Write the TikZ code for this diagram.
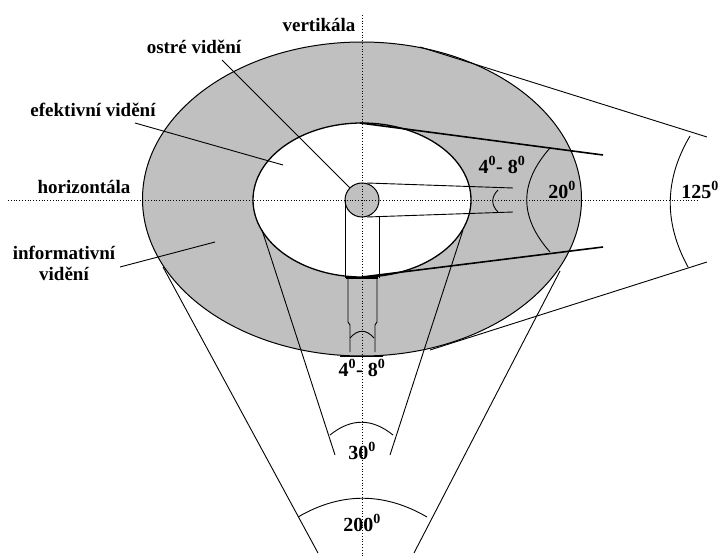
\documentclass[tikz,border=0pt]{standalone}
\usepackage{fontspec}
\setmainfont{Liberation Serif}
\usetikzlibrary{positioning}
\definecolor{fieldGray}{RGB}{192,192,192}
\newcommand{\degval}[1]{#1\textsuperscript{0}}

\begin{document}
\begin{tikzpicture}[x=1pt, y=-1pt,
    lbl/.style={font=\fontsize{19}{21}\selectfont\bfseries, inner sep=0pt, align=center},
    deg/.style={font=\fontsize{20}{22}\selectfont\bfseries, inner sep=0pt},
    ray/.style={line width=0.9pt},
    heavy/.style={line width=1.6pt},
    axis/.style={line width=0.8pt, dotted}
  ]
  \useasboundingbox (0,0) rectangle (723,556);
  \filldraw[fill=fieldGray, draw=black, line width=1pt] (362,199) ellipse [x radius=219.5, y radius=157];
  \filldraw[fill=white, draw=black, line width=1.3pt] (362,200) ellipse [x radius=109, y radius=77];
  \node[circle, draw, line width=1pt, fill=fieldGray, minimum size=34pt, inner sep=0pt] (fovea) at (362,200) {};

  \draw[axis] (8,200) -- (698,200);
  \draw[axis] (362,15) -- (362,556);

  \node[lbl] (vert) at (319,25) {vertikála};
  \node[lbl] (sharp) at (194,47) {ostré vidění};
  \node[lbl] (effective) at (93,110) {efektivní vidění};
  \node[lbl] (horiz) at (84,187) {horizontála};
  \node[lbl] (inform) at (64,263) {informativní\\vidění};

  \coordinate (effTip) at (283,165);
  \coordinate (infTip) at (215,242);
  \draw[ray] (222,60) -- (fovea.north west);
  \draw[ray] (135,123) -- (effTip);
  \draw[ray] (120,267) -- (infTip);

  \draw[ray] (367,183) -- (513,188);
  \draw[ray] (367,217) -- (513,212);
  \draw[ray] (498,190) .. controls (491,197) and (491,205) .. (498,212);
  \node[deg] (narrowR) at (502,165) {\degval{4}- \degval{8}};

  \draw[ray] (345,200) -- (345,278);
  \draw[ray] (379,216) -- (379,278);
  \draw[heavy] (346,278) -- (378,278);
  \draw[ray] (348,278) -- (348,322) -- (350,325) -- (350,352);
  \draw[ray] (377,278) -- (377,322) -- (375,325) -- (375,352);
  \draw[ray] (350,338) .. controls (358,329) and (366,329) .. (374,338);
  \draw[heavy] (340,356.5) -- (383,356.5);
  \node[deg] (narrowB) at (362,368) {\degval{4}- \degval{8}};

  \draw[heavy] (360,123) -- (603,155);
  \draw[heavy] (362,277) -- (603,247);
  \draw[ray] (550,148) .. controls (519,183) and (519,217) .. (550,252);
  \node[deg] (effAngle) at (562,190) {\degval{20}};

  \draw[ray] (420,47) -- (707,137);
  \draw[ray] (430,350) -- (707,262);
  \draw[ray] (690,136) .. controls (664,180) and (664,223) .. (688,267);
  \node[deg] (fullAngle) at (700,190) {\degval{125}};

  \draw[ray] (262,230) -- (335,455);
  \draw[ray] (463,230) -- (390,455);
  \draw[ray] (330,435) .. controls (351,418) and (372,418) .. (393,435);
  \node[deg] (coneAngle) at (362,451) {\degval{30}};

  \draw[ray] (163,267) -- (318,553);
  \draw[ray] (560,271) -- (414,553);
  \draw[ray] (298,517) .. controls (341,492) and (384,492) .. (427,517);
  \node[deg] (wideAngle) at (362,523) {\degval{200}};
\end{tikzpicture}
\end{document}
